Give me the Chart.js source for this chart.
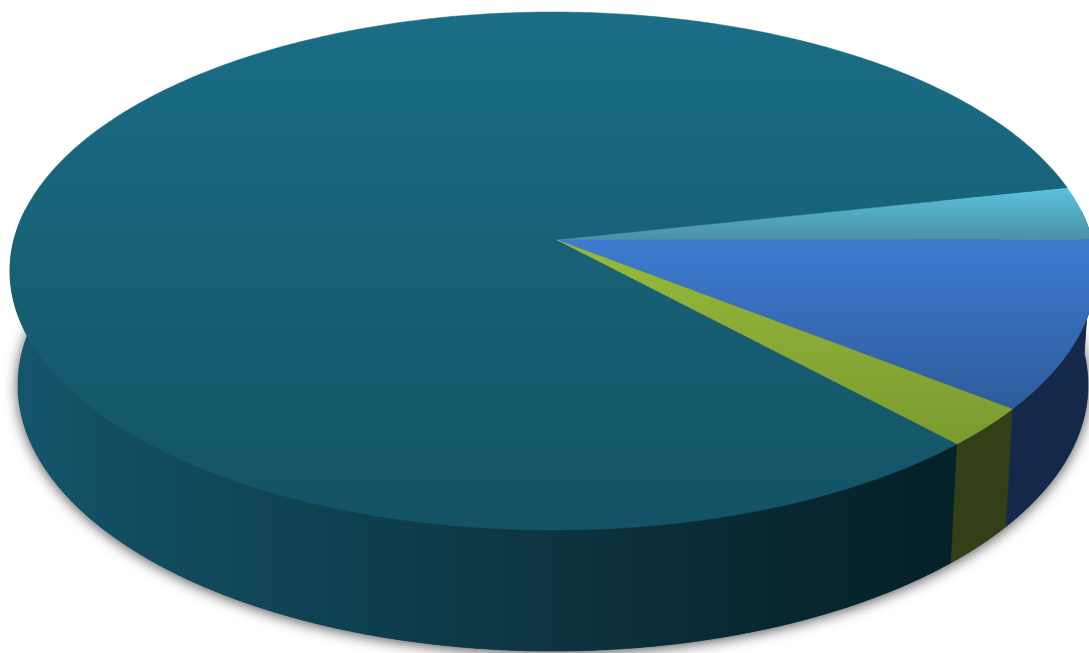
<!DOCTYPE html>
<html><head><meta charset="utf-8">
<style>html,body{margin:0;padding:0;background:#fff;overflow:hidden}#w{width:1089px;height:653px}</style>
<script src="https://cdn.jsdelivr.net/npm/chart.js@4"></script></head>
<body><div id="w"><canvas id="c"></canvas></div>
<script>
const categories = ['Main share', 'Light blue share', 'Blue share', 'Green share'];
const shareValues = [83.55, 3.35, 10.6, 2.5];
const faceTop = ['#1a6e86', '#5cc3e0', '#3e7bd0', '#97ba3c'];
const faceBottom = ['#145265', '#4a90a4', '#2d5c9a', '#7a9a30'];
const gradTop = [12, 186, 240, 240];
const gradBottom = [530, 240, 410, 445];
const wallColors = ['#0d3a4a', '#1a3a5c', '#14294a', '#333f16'];

const E = {cx: 553, cy: 271, rx: 543, ry: 259, bcx: 553, bcy: 385, brx: 535, bry: 266};
const A = {x: 4 / 543, y: -31 / 259};
function proj(th) {
  const c = Math.cos(th), s = Math.sin(th);
  const n2 = A.x * A.x + A.y * A.y, n = Math.sqrt(n2);
  const ux = A.x / n, uy = A.y / n;
  const par = c * ux + s * uy;
  const f = Math.sqrt(1 - n2);
  const d = 1 + A.x * c + A.y * s;
  const px = (par + n) * ux + f * (c - par * ux);
  const py = (par + n) * uy + f * (s - par * uy);
  return {x: px / d, y: py / d};
}
const top3 = th => { const p = proj(th); return {x: E.cx + E.rx * p.x, y: E.cy + E.ry * p.y}; };
const bot3 = th => { const p = proj(th); return {x: E.bcx + E.brx * p.x, y: E.bcy + E.bry * p.y}; };
const apex = () => ({x: E.cx + E.rx * A.x, y: E.cy + E.ry * A.y});

function samples(a0, a1) {
  const n = Math.max(2, Math.ceil(Math.abs(a1 - a0) / 0.01)), out = [];
  for (let i = 0; i <= n; i++) out.push(a0 + (a1 - a0) * i / n);
  return out;
}
const pie3d = {
  id: 'pie3d',
  beforeDatasetsDraw(chart) {
    const ctx = chart.ctx, arcs = chart.getDatasetMeta(0).data;
    ctx.save();
    ctx.shadowColor = 'rgba(0,0,0,0.7)'; ctx.shadowBlur = 14; ctx.shadowOffsetY = 2;
    ctx.fillStyle = '#0d3a4a';
    ctx.beginPath();
    samples(0, Math.PI * 2).forEach((t, i) => { const p = bot3(t); i ? ctx.lineTo(p.x, p.y) : ctx.moveTo(p.x, p.y); });
    ctx.closePath(); ctx.fill(); ctx.restore();
    arcs.forEach((arc, idx) => {
      const pr = arc.getProps(['startAngle', 'endAngle'], true);
      const ts = samples(pr.startAngle, pr.endAngle).filter(t => Math.sin(t) > -0.12);
      if (ts.length < 2) return;
      const g = ctx.createLinearGradient(E.cx - E.rx, 0, E.cx + E.rx, 0);
      if (idx === 0) {
        g.addColorStop(0, '#14566c'); g.addColorStop(0.12, '#114c60'); g.addColorStop(0.3, '#0f4152');
        g.addColorStop(0.5, '#0d3440'); g.addColorStop(0.7, '#082831'); g.addColorStop(0.85, '#05222a'); g.addColorStop(1, '#061d25');
      } else { g.addColorStop(0, wallColors[idx]); g.addColorStop(1, wallColors[idx]); }
      ctx.fillStyle = g;
      ctx.beginPath();
      ts.forEach((t, i) => { const p = top3(t); i ? ctx.lineTo(p.x, p.y) : ctx.moveTo(p.x, p.y); });
      ts.slice().reverse().forEach(t => { const p = bot3(t); ctx.lineTo(p.x, p.y); });
      ctx.closePath(); ctx.fill();
      ctx.strokeStyle = g; ctx.lineWidth = 0.6; ctx.stroke();
    });
    const ap = apex();
    arcs.forEach((arc, idx) => {
      const pr = arc.getProps(['startAngle', 'endAngle'], true);
      const g = ctx.createLinearGradient(0, gradTop[idx], 0, gradBottom[idx]);
      g.addColorStop(0, faceTop[idx]); g.addColorStop(1, faceBottom[idx]);
      ctx.fillStyle = g;
      ctx.beginPath();
      ctx.moveTo(ap.x, ap.y);
      samples(pr.startAngle, pr.endAngle).forEach(t => { const p = top3(t); ctx.lineTo(p.x, p.y); });
      ctx.closePath(); ctx.fill();
      ctx.strokeStyle = g; ctx.lineWidth = 0.5; ctx.stroke();
    });
    return false;
  }
};
new Chart(document.getElementById('c'), {
  type: 'pie',
  data: {labels: categories, datasets: [{data: shareValues, backgroundColor: faceTop, borderWidth: 0}]},
  options: {
    responsive: true, maintainAspectRatio: false, animation: false,
    rotation: 137.1,
    plugins: {legend: {display: false}, tooltip: {enabled: false}}
  },
  plugins: [pie3d]
});
</script></body></html>
